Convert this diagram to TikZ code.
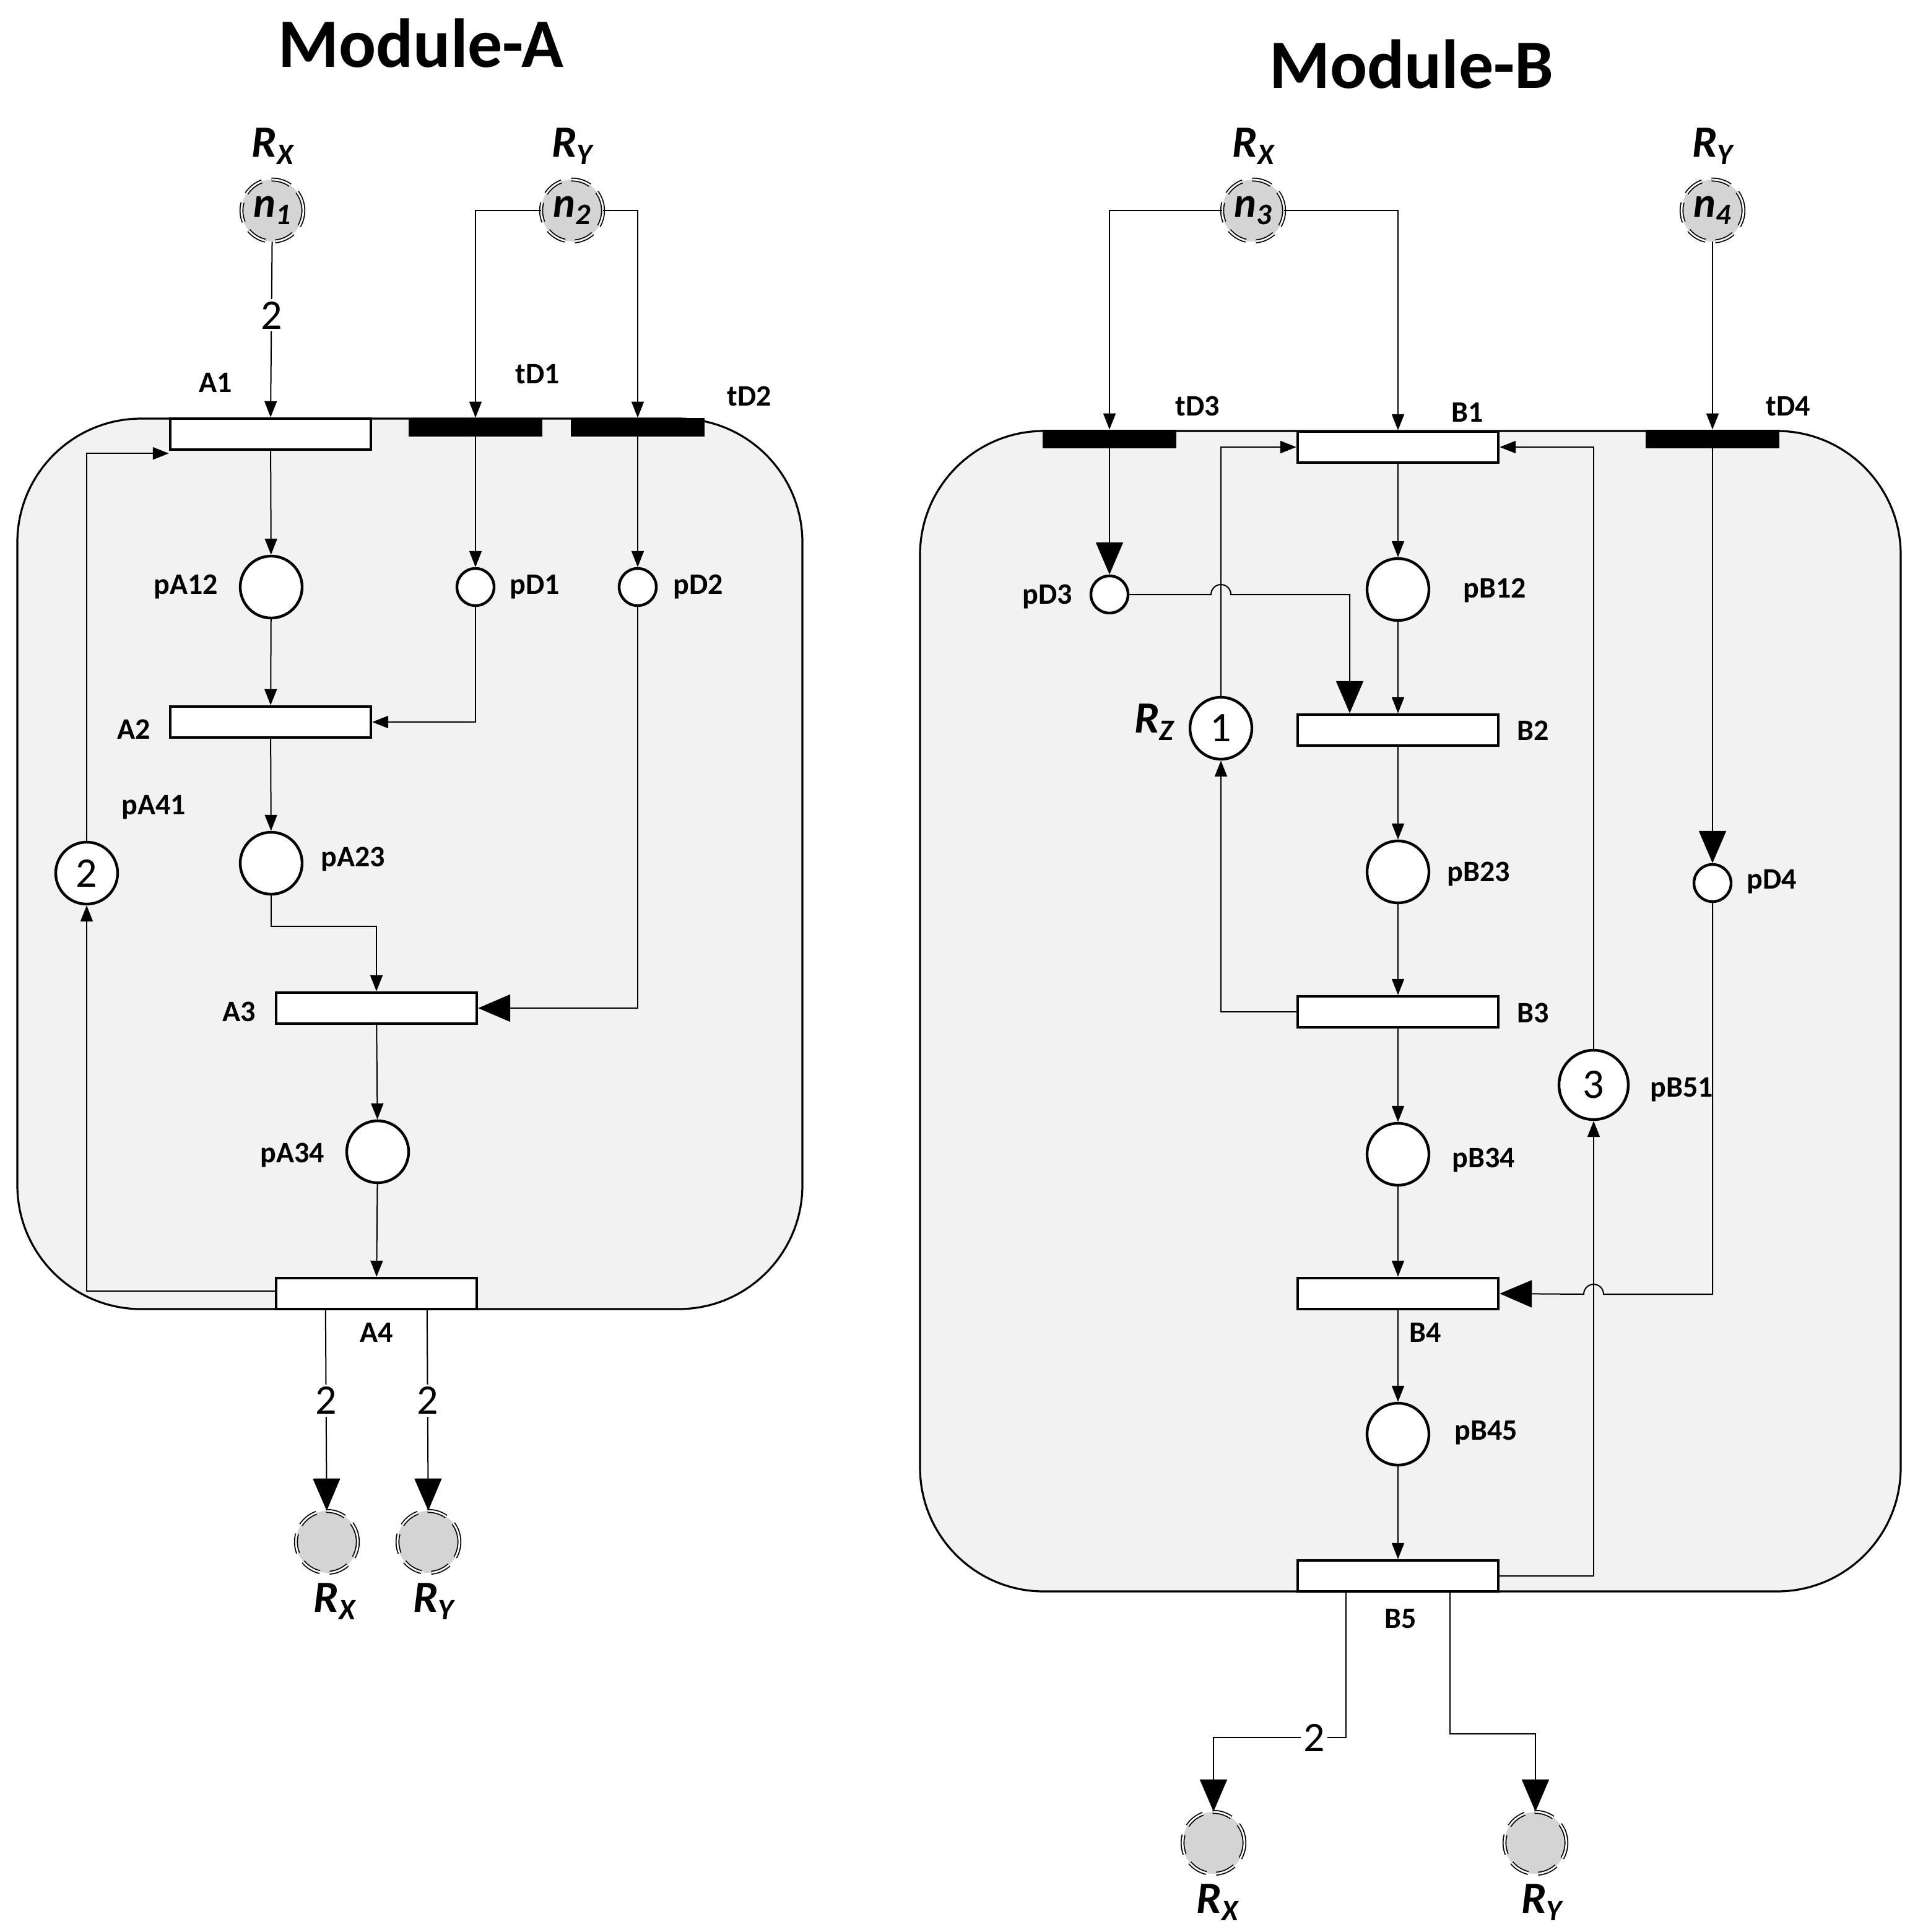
\documentclass[tikz,border=0pt]{standalone}
\usepackage{fontspec}
\setmainfont{Carlito}
\usetikzlibrary{arrows.meta,calc}
\newcommand{\mysub}[1]{\raisebox{-0.35ex}{\fontsize{24}{24}\selectfont #1}}
\begin{document}
\begin{tikzpicture}[x=1pt,y=-1pt,
  box/.style={draw,line width=1.6pt,fill=black!5,rounded corners=100pt},
  tr/.style={draw,line width=2.2pt,fill=white,minimum width=162pt,minimum height=25pt,inner sep=0pt},
  bar/.style={fill=black,minimum width=108pt,minimum height=15pt,inner sep=0pt},
  pl/.style={circle,draw,line width=2.2pt,fill=white,minimum size=50pt,inner sep=0pt,font=\fontsize{34}{34}\selectfont},
  sp/.style={circle,draw,line width=2.2pt,fill=white,minimum size=30pt,inner sep=0pt},
  rp/.style={circle,fill=black!17,minimum size=50pt,inner sep=0pt,font=\fontsize{34}{34}\bfseries\itshape\selectfont,
    postaction={draw,double=white,double distance=1.4pt,line width=0.9pt,dash pattern=on 16pt off 8pt}},
  lb/.style={font=\fontsize{24}{24}\bfseries\selectfont},
  rl/.style={font=\fontsize{36}{36}\bfseries\itshape\selectfont},
  tt/.style={font=\fontsize{56}{56}\bfseries\selectfont},
  num/.style={font=\fontsize{34}{34}\selectfont,fill=white,inner sep=2pt},
  a/.style={-{Triangle[length=13pt,width=10pt]},line width=1pt},
  A/.style={-{Triangle[length=26pt,width=22pt]},line width=1pt}]
\useasboundingbox (0,0) rectangle (1542,1560);
% boxes
\draw[box] (14,338) rectangle (648,1057);
\draw[box] (743,348) rectangle (1535,1285);
\node[tt] at (340,35) {Module-A};
\node[tt] at (1140,52) {Module-B};
% ---------- Module A
\node[rp] (n1) at (220,170) {n\mysub{1}};
\node[rp] (n2) at (462,170) {n\mysub{2}};
\node[rl] at (220,118) {R\mysub{X}};
\node[rl] at (462,118) {R\mysub{Y}};
\node[tr] (A1) at (218.5,350.5) {};
\node[bar] (tD1) at (384,345) {};
\node[bar] (tD2) at (515,345) {};
\node[lb] at (174,309) {A1};
\node[lb] at (434,302) {tD1};
\node[lb] at (605,320) {tD2};
\node[pl] (pA12) at (219,474) {};
\node[sp] (pD1) at (384,474) {};
\node[sp] (pD2) at (515,474) {};
\node[lb] at (150,474) {pA12};
\node[lb] at (432,474) {pD1};
\node[lb] at (564,474) {pD2};
\node[tr] (A2) at (218.5,583) {};
\node[lb] at (108,589) {A2};
\node[pl] (pA23) at (219,697) {};
\node[lb] at (285,694) {pA23};
\node[tr] (A3) at (304,814) {};
\node[lb] at (193,817) {A3};
\node[pl] (pA34) at (305,930) {};
\node[lb] at (236,933) {pA34};
\node[tr] (A4) at (304,1044.5) {};
\node[lb] at (304,1076) {A4};
\node[pl] (pA41) at (70,705) {2};
\node[lb] at (124,652) {pA41};
\node[rp] (oAx) at (264,1245) {};
\node[rp] (oAy) at (346,1245) {};
\node[rl] at (270,1293) {R\mysub{X}};
\node[rl] at (350,1293) {R\mysub{Y}};
\draw[a] (n1) -- node[num,pos=0.42]{2} (A1.north);
\draw[a] (n2.west) -| (tD1.north);
\draw[a] (n2.east) -| (tD2.north);
\draw[a] (A1) -- (pA12);
\draw[a] (tD1) -- (pD1);
\draw[a] (tD2) -- (pD2);
\draw[a] (pA12) -- (A2);
\draw[a] (pD1.south) |- (A2.east);
\draw[a] (A2) -- (pA23);
\draw[a] (pA23.south) -- ++(0,25) -| (A3.north);
\draw[A] (pD2.south) |- (A3.east);
\draw[a] (A3) -- (pA34);
\draw[a] (pA34) -- (A4);
\draw[a] ($(A4.west)+(0,-2)$) -| (pA41.south);
\draw[a] (pA41.north) |- ($(A1.south west)+(0,2)$);
\draw[A] ($(A4.south west)+(41,0)$) -- node[num,pos=0.45]{2} (oAx);
\draw[A] ($(A4.south west)+(123,0)$) -- node[num,pos=0.45]{2} (oAy);
% ---------- Module B
\node[rp] (n3) at (1012,170) {n\mysub{3}};
\node[rp] (n4) at (1383,170) {n\mysub{4}};
\node[rl] at (1012,118) {R\mysub{X}};
\node[rl] at (1383,118) {R\mysub{Y}};
\node[bar] (tD3) at (896,354.5) {};
\node[tr] (B1) at (1129,361) {};
\node[bar] (tD4) at (1383,354.5) {};
\node[lb] at (967,328) {tD3};
\node[lb] at (1185,333) {B1};
\node[lb] at (1444,328) {tD4};
\node[sp] (pD3) at (896,480) {};
\node[lb] at (846,482) {pD3};
\node[pl] (pB12) at (1129,476) {};
\node[lb] at (1207,477) {pB12};
\node[tr] (B2) at (1129,589.5) {};
\node[lb] at (1238,590) {B2};
\node[pl] (Rz) at (986,588) {1};
\node[rl] at (932,583) {R\mysub{Z}};
\node[pl] (pB23) at (1129,704) {};
\node[lb] at (1194,706) {pB23};
\node[tr] (B3) at (1129,817) {};
\node[lb] at (1238,818) {B3};
\node[pl] (pB34) at (1129,932) {};
\node[lb] at (1198,937) {pB34};
\node[tr] (B4) at (1129,1044.5) {};
\node[lb] at (1151,1076) {B4};
\node[sp] (pD4) at (1383,713) {};
\node[lb] at (1431,712) {pD4};
\node[pl,minimum size=56pt] (pB51) at (1287,876) {3};
\node[lb] at (1358,880) {pB51};
\node[pl] (pB45) at (1129,1158) {};
\node[lb] at (1200,1157) {pB45};
\node[tr] (B5) at (1129,1272.5) {};
\node[lb] at (1131,1307) {B5};
\node[rp] (oBx) at (980,1488) {};
\node[rp] (oBy) at (1240,1488) {};
\node[rl] at (983,1536) {R\mysub{X}};
\node[rl] at (1245,1536) {R\mysub{Y}};
\draw[a] (n3.west) -| (tD3.north);
\draw[a] (n3.east) -| (B1.north);
\draw[a] (n4) -- (tD4);
\draw[A] (tD3) -- (pD3);
\draw[a] (B1) -- (pB12);
\draw[A] (pD3.east) -- (978,480) arc(180:360:8) -- (1090,480) coordinate (k1) -- (k1 |- B2.north);
\draw[a] (pB12) -- (B2);
\draw[a] (Rz.north) |- (B1.west);
\draw[a] (B2) -- (pB23);
\draw[a] (pB23) -- (B3);
\draw[a] (B3.west) -| (Rz.south);
\draw[a] (B3) -- (pB34);
\draw[a] (pB34) -- (B4);
\draw[A] (tD4) -- (pD4);
\draw[A] (pD4.south) |- (1295,1045) arc(360:180:8) -- (B4.east);
\draw[a] (B4) -- (pB45);
\draw[a] (pB45) -- (B5);
\draw[a] (B5.east) -| (pB51.south);
\draw[a] (pB51.north) |- (B1.east);
\draw[A] ($(B5.south west)+(40,0)$) |- node[num,pos=0.62]{2} (980,1403) -- (oBx);
\draw[A] ($(B5.south west)+(124,0)$) |- (1240,1400) -- (oBy);
\end{tikzpicture}
\end{document}
